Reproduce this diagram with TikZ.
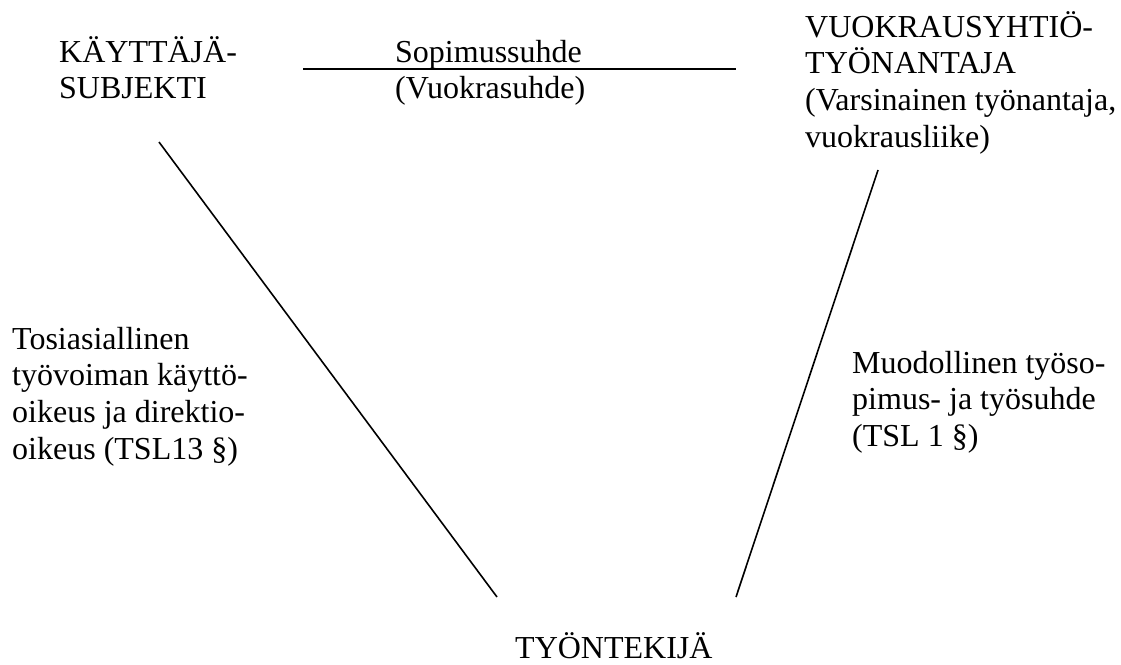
\documentclass[tikz,border=0pt]{standalone}
\usepackage{fontspec}
\setmainfont{Liberation Serif}
\begin{document}
\begin{tikzpicture}[x=1pt, y=-1pt,
    lbl/.style={anchor=base west, inner sep=0pt, align=left,
        font=\fontsize{32}{36.8}\selectfont}]
        \useasboundingbox (0,0) rectangle (1121,664);

        % base = baseline of the last line
        \node[lbl] (kayttaja) at (59, 98.8) {KÄYTTÄJÄ-\\SUBJEKTI};
        \node[lbl] (sopimus) at (395, 98.8) {Sopimussuhde\\(Vuokrasuhde)};
        \node[lbl] (vuokraus) at (805, 147.4) {VUOKRAUSYHTIÖ-\\TYÖNANTAJA\\(Varsinainen työnantaja,\\vuokrausliike)};
        \node[lbl] (tosi) at (12, 459.4) {Tosiasiallinen\\työvoiman käyttö-\\oikeus ja direktio-\\oikeus (TSL13 §)};
        \node[lbl] (muodollinen) at (852, 446.6) {Muodollinen työso-\\pimus- ja työsuhde\\(TSL 1 §)};
        \node[lbl] (tyontekija) at (515, 658) {TYÖNTEKIJÄ};

        \coordinate (sop-a) at (303, 69);
        \coordinate (sop-b) at (736, 69);
        \coordinate (kay-a) at (159, 142);
        \coordinate (kay-b) at (497, 597);
        \coordinate (vuo-a) at (878, 170);
        \coordinate (vuo-b) at (736, 597);

        \draw[line width=1.6pt] (sop-a) -- (sop-b);
        \draw[line width=1.6pt] (kay-a) -- (kay-b);
        \draw[line width=1.6pt] (vuo-a) -- (vuo-b);
    \end{tikzpicture}
\end{document}
